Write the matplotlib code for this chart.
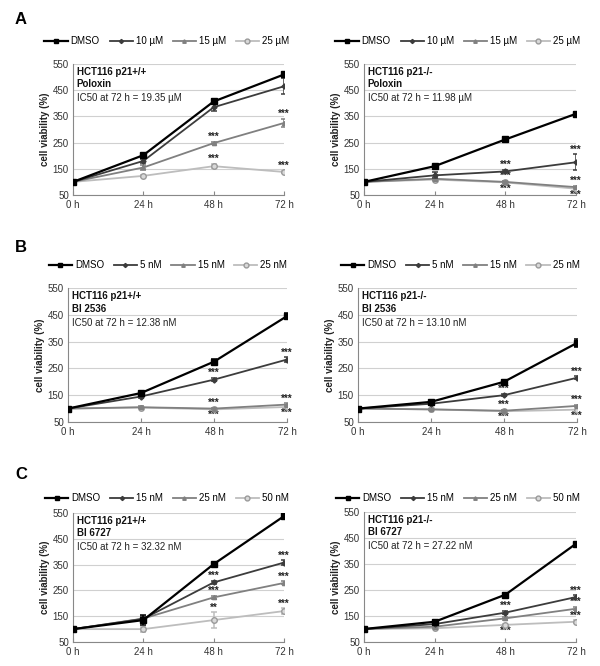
import matplotlib
matplotlib.use("Agg")
import matplotlib.pyplot as plt
import numpy as np

plt.rcParams['font.family'] = ['Liberation Sans', 'DejaVu Sans']

times = ["0 h", "24 h", "48 h", "72 h"]
yticks = [50, 150, 250, 350, 450, 550]

# ---- Panel A: Poloxin ----
a_labels = ["DMSO", "10 µM", "15 µM", "25 µM"]
a1_dmso = [100, 202, 407, 510]
a1_10 = [100, 180, 385, 465]
a1_15 = [100, 155, 248, 325]
a1_25 = [100, 123, 160, 138]
a1_err = [[0, 5, 8, 6], [0, 8, 15, 30], [0, 8, 5, 15], [0, 5, 8, 5]]
a2_dmso = [100, 160, 262, 360]
a2_10 = [100, 125, 140, 175]
a2_15 = [100, 112, 100, 80]
a2_25 = [100, 109, 98, 74]
a2_err = [[0, 4, 8, 5], [0, 12, 5, 30], [0, 5, 5, 5], [0, 5, 5, 5]]

# ---- Panel B: BI 2536 ----
b_labels = ["DMSO", "5 nM", "15 nM", "25 nM"]
b1_dmso = [100, 158, 275, 445]
b1_5 = [100, 145, 208, 283]
b1_15 = [100, 105, 100, 115]
b1_25 = [100, 104, 97, 106]
b1_err = [[0, 5, 10, 10], [0, 5, 5, 8], [0, 3, 3, 4], [0, 3, 3, 3]]
b2_dmso = [100, 125, 200, 345]
b2_5 = [100, 118, 150, 215]
b2_15 = [100, 97, 92, 110]
b2_25 = [100, 97, 90, 96]
b2_err = [[0, 5, 5, 15], [0, 4, 4, 5], [0, 3, 3, 4], [0, 3, 3, 3]]

# ---- Panel C: BI 6727 ----
c_labels = ["DMSO", "15 nM", "25 nM", "50 nM"]
c1_dmso = [100, 135, 352, 538]
c1_15 = [100, 140, 281, 358]
c1_25 = [100, 141, 223, 279]
c1_50 = [100, 100, 135, 170]
c1_err = [[0, 18, 5, 10], [0, 8, 5, 8], [0, 8, 5, 6], [0, 10, 30, 10]]
c2_dmso = [100, 128, 232, 428]
c2_15 = [100, 119, 163, 223]
c2_25 = [100, 109, 141, 178]
c2_50 = [100, 103, 116, 128]
c2_err = [[0, 5, 5, 4], [0, 4, 6, 6], [0, 4, 6, 6], [0, 4, 5, 5]]

# significance marks: (series index, time index, text, side)
a1_sig = [(2, 2, "***", "up"), (2, 3, "***", "up"), (3, 2, "***", "up"), (3, 3, "***", "up")]
a2_sig = [(1, 2, "***", "up"), (1, 3, "***", "up"), (2, 2, "***", "up"),
          (3, 2, "***", "down"), (2, 3, "***", "up"), (3, 3, "***", "down")]
b1_sig = [(1, 2, "***", "up"), (1, 3, "***", "up"), (2, 2, "***", "up"),
          (3, 2, "***", "down"), (2, 3, "***", "up"), (3, 3, "***", "down")]
b2_sig = [(1, 2, "***", "up"), (1, 3, "***", "up"), (2, 2, "***", "up"),
          (3, 2, "***", "down"), (2, 3, "***", "up"), (3, 3, "***", "down")]
c1_sig = [(1, 2, "***", "up"), (1, 3, "***", "up"), (2, 2, "***", "up"),
          (2, 3, "***", "up"), (3, 2, "**", "up"), (3, 3, "***", "up")]
c2_sig = [(1, 2, "***", "up"), (3, 2, "***", "down"), (1, 3, "***", "up"),
          (2, 3, "***", "up"), (3, 3, "***", "up")]

colors = ["#000000", "#3c3c3c", "#808080", "#bdbdbd"]
markers = ["s", "D", "^", "o"]
msizes = [4, 2.6, 3, 4]
lws = [1.6, 1.3, 1.3, 1.3]

panels = [
    dict(pos=[0.1217, 0.7072, 0.3517, 0.1967], series=[a1_dmso, a1_10, a1_15, a1_25], err=a1_err,
         labels=a_labels, title=["HCT116 p21+/+", "Poloxin"], ic="IC50 at 72 h = 19.35 µM",
         sig=a1_sig, leg=(0.278, 0.938)),
    dict(pos=[0.6067, 0.7072, 0.3533, 0.1967], series=[a2_dmso, a2_10, a2_15, a2_25], err=a2_err,
         labels=a_labels, title=["HCT116 p21-/-", "Poloxin"], ic="IC50 at 72 h = 11.98 µM",
         sig=a2_sig, leg=(0.763, 0.938)),
    dict(pos=[0.1133, 0.3664, 0.365, 0.2012], series=[b1_dmso, b1_5, b1_15, b1_25], err=b1_err,
         labels=b_labels, title=["HCT116 p21+/+", "BI 2536"], ic="IC50 at 72 h = 12.38 nM",
         sig=b1_sig, leg=(0.28, 0.602)),
    dict(pos=[0.5967, 0.3664, 0.365, 0.2012], series=[b2_dmso, b2_5, b2_15, b2_25], err=b2_err,
         labels=b_labels, title=["HCT116 p21-/-", "BI 2536"], ic="IC50 at 72 h = 13.10 nM",
         sig=b2_sig, leg=(0.767, 0.602)),
    dict(pos=[0.1217, 0.036, 0.3517, 0.1937], series=[c1_dmso, c1_15, c1_25, c1_50], err=c1_err,
         labels=c_labels, title=["HCT116 p21+/+", "BI 6727"], ic="IC50 at 72 h = 32.32 nM",
         sig=c1_sig, leg=(0.278, 0.252)),
    dict(pos=[0.6067, 0.036, 0.3533, 0.1952], series=[c2_dmso, c2_15, c2_25, c2_50], err=c2_err,
         labels=c_labels, title=["HCT116 p21-/-", "BI 6727"], ic="IC50 at 72 h = 27.22 nM",
         sig=c2_sig, leg=(0.763, 0.252)),
]

fig = plt.figure(figsize=(6.0, 6.66), dpi=100)
x = np.arange(len(times))
fs = 7

for p in panels:
    ax = fig.add_axes(p["pos"])
    for i, (vals, e) in enumerate(zip(p["series"], p["err"])):
        mfc = "#d9d9d9" if markers[i] == "o" else colors[i]
        mec = "#9a9a9a" if markers[i] == "o" else colors[i]
        ax.errorbar(x, vals, yerr=e, color=colors[i], lw=lws[i], marker=markers[i],
                    ms=msizes[i], mfc=mfc, mec=mec, ecolor=colors[i], elinewidth=1.1,
                    capsize=2.2, capthick=1.1, zorder=5 - i * 0.5, label=p["labels"][i])
    for (si, ti, txt, side) in p["sig"]:
        v = p["series"][si][ti]
        e = p["err"][si][ti]
        if side == "up":
            ax.annotate(txt, (x[ti], v + e), xytext=(0, 0), textcoords="offset points",
                        ha="center", va="bottom", fontsize=7, fontweight="bold", color="#222222")
        else:
            ax.annotate(txt, (x[ti], v - e), xytext=(0, 0), textcoords="offset points",
                        ha="center", va="top", fontsize=7, fontweight="bold", color="#222222")
    ax.set_xlim(0, 3)
    ax.set_ylim(50, 550)
    ax.set_yticks(yticks)
    ax.set_xticks(x)
    ax.set_xticklabels(times)
    ax.yaxis.grid(True, color="#d0d0d0", lw=0.8)
    ax.set_axisbelow(True)
    for s in ["top", "right"]:
        ax.spines[s].set_visible(False)
    for s in ["left", "bottom"]:
        ax.spines[s].set_color("#888888")
    ax.tick_params(axis="both", labelsize=fs, colors="#333333", length=3, width=0.8)
    ax.tick_params(axis="y", length=0, pad=3)
    ax.tick_params(axis="x", direction="in", length=3, color="#888888")
    ax.set_ylabel("cell viability (%)", fontsize=fs, fontweight="bold", color="#222222", labelpad=2)
    ax.text(0.018, 0.938, p["title"][0], transform=ax.transAxes, fontsize=fs,
            fontweight="bold", va="center", ha="left", color="#111111")
    ax.text(0.018, 0.845, p["title"][1], transform=ax.transAxes, fontsize=fs,
            fontweight="bold", va="center", ha="left", color="#111111")
    ax.text(0.018, 0.74, p["ic"], transform=ax.transAxes, fontsize=fs,
            va="center", ha="left", color="#222222")
    leg_handles = [plt.Line2D([], [], color=colors[i], lw=lws[i], marker=markers[i],
                              ms=msizes[i] - 0.5,
                              mfc=("#d9d9d9" if markers[i] == "o" else colors[i]),
                              mec=("#9a9a9a" if markers[i] == "o" else colors[i]))
                   for i in range(4)]
    ax.legend(leg_handles, p["labels"], loc="center", bbox_to_anchor=p["leg"],
              bbox_transform=fig.transFigure, ncol=4, frameon=False, fontsize=fs,
              handlelength=2.4, handletextpad=0.3, columnspacing=1.0, borderpad=0)

fig.text(0.025, 0.97, "A", fontsize=12, fontweight="bold", va="center", ha="left")
fig.text(0.025, 0.628, "B", fontsize=12, fontweight="bold", va="center", ha="left")
fig.text(0.025, 0.287, "C", fontsize=12, fontweight="bold", va="center", ha="left")

fig.savefig("out.png", dpi=100)
